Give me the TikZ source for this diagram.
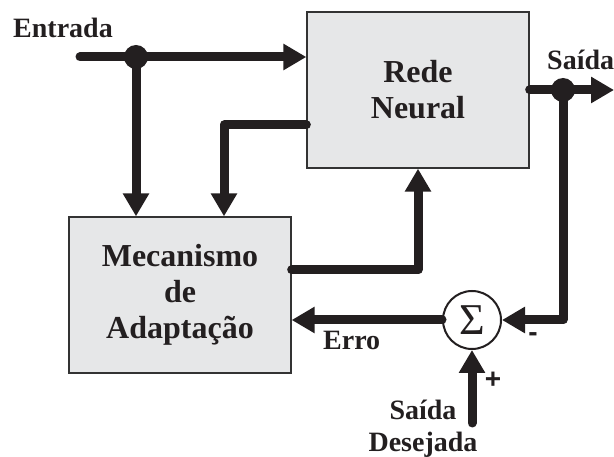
\documentclass[tikz,border=0pt]{standalone}
\usepackage{fontspec}
\setmainfont{Liberation Serif}
\newfontfamily\signfont{Liberation Sans}
\usetikzlibrary{arrows.meta}

\definecolor{boxfill}{HTML}{E6E7E8}
\definecolor{boxline}{HTML}{333333}
\definecolor{ink}{HTML}{231F20}

\tikzset{
  block/.style={draw=boxline, line width=1.3pt, fill=boxfill, rectangle,
    minimum width=222pt, minimum height=156pt, align=center, inner sep=0pt,
    text=ink, font=\fontsize{32}{36}\selectfont\bfseries},
  sumnode/.style={draw=ink, line width=2pt, fill=white, circle,
    minimum size=58pt, inner sep=0pt, text=ink,
    font=\fontsize{44}{44}\selectfont},
  wire/.style={draw=ink, line width=9pt, line cap=round, line join=round},
  flow/.style={wire, -{Triangle[length=23pt,width=25pt]}},
  dot/.style={circle, fill=ink, minimum size=24pt, inner sep=0pt},
  lbl/.style={text=ink, font=\fontsize{28}{32}\selectfont\bfseries, inner sep=0pt},
  sign/.style={text=ink, font=\fontsize{28}{32}\selectfont\signfont\bfseries, inner sep=0pt}
}

\begin{document}
\begin{tikzpicture}[x=1pt,y=-1pt]
\useasboundingbox (0,0) rectangle (614,457);

% blocks
\node[block] (rede) at (418,90) {Rede\\Neural};
\node[block] (mech) at (180,295) {Mecanismo\\de\\Adaptação};
\node[sumnode] (sum) at (472,320) {\raisebox{-1pt}{Σ}};

% wire points
\coordinate (in) at (80,57);
\coordinate (j1) at (136,57);
\coordinate (fb) at (224,125);
\coordinate (ad) at (418,270);
\coordinate (j2) at (563,90);
\coordinate (out) at (614,90);
\coordinate (des) at (472,423);

% connectors
\draw[flow] (in) -- (in -| rede.west);
\draw[flow] (j1) -- (j1 |- mech.north);
\draw[flow] (fb -| rede.west) -- (fb) -- (fb |- mech.north);
\draw[flow] (ad -| mech.east) -- (ad) -- (rede.south);
\draw[flow] (rede.east) -- (out);
\draw[flow] (j2) -- (j2 |- sum.east) -- (sum.east);
\draw[flow] (sum.west) -- (sum.west -| mech.east);
\draw[flow] (des) -- (sum.south);

% junctions
\node[dot] (d1) at (j1) {};
\node[dot] (d2) at (j2) {};

% labels
\node[lbl, anchor=base west] (lin) at (13,38) {Entrada};
\node[lbl, anchor=base west] (lout) at (547,70) {Saída};
\node[lbl, anchor=base west] (lerr) at (323,350) {Erro};
\node[lbl, anchor=base] (ldes1) at (423,420) {Saída};
\node[lbl, anchor=base] (ldes2) at (423,452) {Desejada};
\node[sign] (minus) at (533,337) {-};
\node[sign] (plus) at (493,380) {+};
\end{tikzpicture}
\end{document}
